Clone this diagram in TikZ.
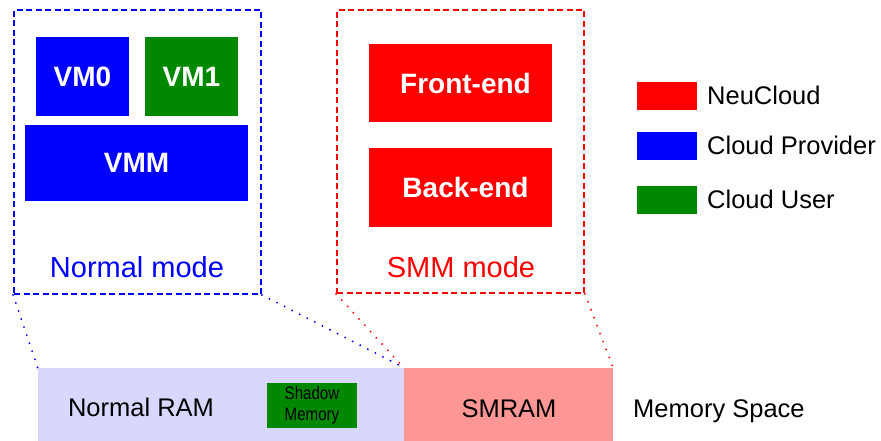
\documentclass[tikz,border=0pt]{standalone}
\usepackage{fontspec}
\setmainfont{Liberation Sans}
\newfontfamily\narrowsans[FakeStretch=0.84]{Liberation Sans}
\definecolor{provider}{RGB}{0,0,255}
\definecolor{cuser}{RGB}{0,136,0}
\definecolor{neu}{RGB}{255,0,0}
\definecolor{ramblue}{RGB}{216,216,255}
\definecolor{smrampink}{RGB}{255,150,150}
\tikzset{
  block/.style={rectangle, inner sep=0pt, text=white,
    font=\fontsize{28}{30}\selectfont\bfseries},
  frame/.style={rectangle, inner sep=0pt, line width=1.8pt,
    dash pattern=on 6pt off 3.5pt},
  modelabel/.style={anchor=base, inner sep=0pt, font=\fontsize{29}{31}\selectfont},
  plain/.style={inner sep=0pt, font=\fontsize{25.5}{28}\selectfont},
  mem/.style={rectangle, inner sep=0pt},
  swatch/.style={rectangle, inner sep=0pt, minimum width=60pt, minimum height=28pt},
  linker/.style={line width=2.1pt, line cap=round, dash pattern=on 0pt off 8.5pt}
}
\begin{document}
\begin{tikzpicture}[x=1pt,y=-1pt]
\useasboundingbox[fill=white] (0,0) rectangle (881,441);

% normal-mode frame and its software stack
\node[frame, draw=provider, minimum width=247pt, minimum height=284pt] (nframe) at (137.5,152) {};
\node[block, fill=provider, minimum width=93pt, minimum height=79pt] (vm0) at (82.5,76.5) {VM0};
\node[block, fill=cuser, minimum width=93pt, minimum height=79pt] (vm1) at (191.5,76.5) {VM1};
\node[block, fill=provider, minimum width=223pt, minimum height=76pt] (vmm) at (136.5,163) {VMM};
\node[modelabel, text=provider] (nlabel) at (137,277) {Normal mode};

% SMM frame and the NeuCloud components
\node[frame, draw=neu, minimum width=247pt, minimum height=283pt] (sframe) at (460.5,151.5) {};
\node[block, fill=neu, minimum width=183pt, minimum height=78pt] (front) at (460.5,83) {\hspace*{10pt}Front-end};
\node[block, fill=neu, minimum width=183pt, minimum height=79pt] (back) at (460.5,187.5) {\hspace*{10pt}Back-end};
\node[modelabel, text=neu] (slabel) at (461,277) {SMM mode};

% memory layout
\node[mem, fill=ramblue, minimum width=366pt, minimum height=75pt] (ram) at (221,405.5) {};
\node[mem, fill=smrampink, minimum width=209pt, minimum height=75pt] (smram) at (508.5,405.5) {};
\node[mem, fill=cuser, minimum width=90pt, minimum height=45pt, align=center,
      font=\narrowsans\fontsize{18}{20.5}\selectfont] (shadow) at (312,405.5) {Shadow\\Memory};
\node[plain, anchor=base] (ramlabel) at (141,416.5) {Normal RAM};
\node[plain, anchor=base] (smramlabel) at (509,417) {SMRAM};
\node[plain, anchor=base west] (memspace) at (633,417) {Memory Space};

% projections of the modes onto memory
\draw[linker, provider] (nframe.south west) -- (ram.north west);
\draw[linker, provider] (nframe.south east) -- (ram.north east);
\draw[linker, neu] (sframe.south west) -- (smram.north west);
\draw[linker, neu] (sframe.south east) -- (smram.north east);

% legend
\node[swatch, fill=neu] (k1) at (667,96) {};
\node[swatch, fill=provider] (k2) at (667,146) {};
\node[swatch, fill=cuser] (k3) at (667,200) {};
\node[plain, anchor=base west] (t1) at (707,105) {NeuCloud};
\node[plain, anchor=base west] (t2) at (707,155) {Cloud Provider};
\node[plain, anchor=base west] (t3) at (707,208) {Cloud User};
\end{tikzpicture}
\end{document}
